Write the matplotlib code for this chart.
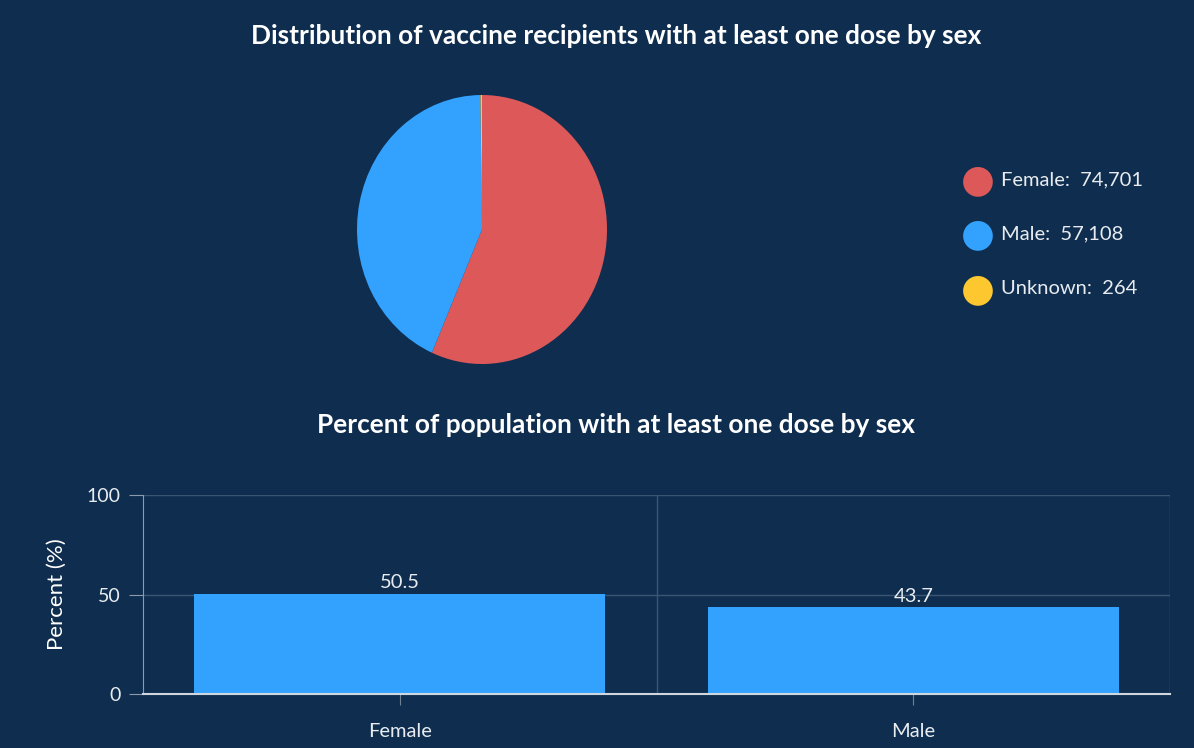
import matplotlib.pyplot as plt

# datos
sexos_pie = ["Female", "Male", "Unknown"]
dosis = [74701, 57108, 264]
colores_pie = ["#dd5959", "#33a2ff", "#fdc82f"]

sexos_bar = ["Female", "Male"]
porcentaje = [50.5, 43.7]

fondo = "#0f2e4f"
grid = "#3b5673"
texto = "#e8ecf0"

plt.rcParams["font.family"] = ["Lato", "DejaVu Sans"]

fig = plt.figure(figsize=(11.94, 7.48), dpi=100)
fig.patch.set_facecolor(fondo)

# pie
ax1 = fig.add_axes([357 / 1194, (748 - 364) / 748, 250 / 1194, 269 / 748])
ax1.set_facecolor(fondo)
ax1.pie(dosis, colors=colores_pie, startangle=90, counterclock=False,
        wedgeprops=dict(linewidth=0))
ax1.set_aspect("auto")
ax1.set_xlim(-1, 1)
ax1.set_ylim(-1, 1)
ax1.axis("off")

fig.text(616 / 1194, 1 - 36 / 748,
         "Distribution of vaccine recipients with at least one dose by sex",
         ha="center", va="center", color="white", fontsize=18.9, fontweight="bold")

# leyenda
ys = [180, 234, 289]
for nombre, valor, col, y in zip(sexos_pie, dosis, colores_pie, ys):
    fig.text(978 / 1194, 1 - y / 748, "\u25CF", color=col, fontsize=28,
             ha="center", va="center", family="DejaVu Sans")
    fig.text(1001 / 1194, 1 - y / 748, f"{nombre}:  {valor:,}", color=texto,
             fontsize=14.5, ha="left", va="center")

fig.text(616 / 1194, 1 - 425 / 748,
         "Percent of population with at least one dose by sex",
         ha="center", va="center", color="white", fontsize=18.9, fontweight="bold")

# barras
ax2 = fig.add_axes([143 / 1194, (748 - 694) / 748, 1027 / 1194, 199 / 748])
ax2.set_facecolor(fondo)
x = list(range(len(sexos_bar)))
barras = ax2.bar(x, porcentaje, width=0.8, color="#33a2ff", zorder=3)
for b, v in zip(barras, porcentaje):
    ax2.text(b.get_x() + b.get_width() / 2, v + 1.2, f"{v}", ha="center", va="bottom",
             color=texto, fontsize=14.5, zorder=4)

ax2.set_xlim(-0.5, 1.5)
ax2.set_ylim(0, 100)
ax2.set_yticks([0, 50, 100])
ax2.set_xticks(x)
ax2.set_xticklabels(sexos_bar)
for yy in [50, 100]:
    ax2.axhline(yy, color=grid, linewidth=1, zorder=1)
for xx in [0.5, 1.5]:
    ax2.axvline(xx, color=grid, linewidth=1, zorder=1)

for lado in ["top", "right"]:
    ax2.spines[lado].set_visible(False)
ax2.spines["left"].set_color("#8d9aab")
ax2.spines["bottom"].set_color("#d0d6de")
ax2.spines["bottom"].set_linewidth(1.5)
ax2.spines["bottom"].set_zorder(5)

ax2.tick_params(axis="y", colors=texto, labelsize=14, length=10, color="#8d9aab", pad=6)
ax2.tick_params(axis="x", colors=texto, labelsize=14.5, length=8, color="#6f8095", pad=13)
ax2.set_ylabel("Percent (%)", color="white", fontsize=16, labelpad=14)

plt.savefig("out.png", dpi=100, facecolor=fondo)
